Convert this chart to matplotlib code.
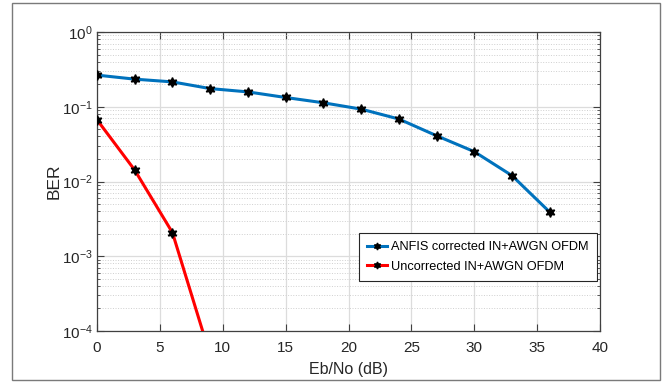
import matplotlib
matplotlib.use("Agg")
import matplotlib.pyplot as plt
from matplotlib.patches import Rectangle
from matplotlib.ticker import LogLocator, NullFormatter

plt.rcParams['font.family'] = ['Liberation Sans', 'DejaVu Sans']

ebno_anfis = [0, 3, 6, 9, 12, 15, 18, 21, 24, 27, 30, 33, 36]
ber_anfis = [0.265, 0.234, 0.215, 0.175, 0.158, 0.133, 0.113, 0.093, 0.0686, 0.041, 0.0251, 0.012, 0.0039]
ebno_unc = [0, 3, 6, 9]
ber_unc = [0.067, 0.0142, 0.00207, 0.000047]
x_ticks = [0, 5, 10, 15, 20, 25, 30, 35, 40]

fig = plt.figure(figsize=(6.67, 3.82), dpi=100)
fig.patches.append(Rectangle((12/667, 2/382), 648/667, 377/382, transform=fig.transFigure,
                             fill=False, edgecolor='#7a7a7a', linewidth=1.0))
ax = fig.add_axes([97/667, 51/382, 503/667, 299/382])

star = (6, 1, 0)
ax.plot(ebno_anfis, ber_anfis, color='#0072BD', linewidth=2.2, marker=star, markersize=7,
        markerfacecolor='black', markeredgecolor='black', label='ANFIS corrected IN+AWGN OFDM', zorder=3)
ax.plot(ebno_unc, ber_unc, color='#FF0000', linewidth=2.2, marker=star, markersize=7,
        markerfacecolor='black', markeredgecolor='black', label='Uncorrected IN+AWGN OFDM', zorder=3)

ax.set_yscale('log')
ax.set_xlim(0, 40)
ax.set_ylim(1e-4, 1)
ax.set_xticks(x_ticks)
ax.yaxis.set_major_locator(LogLocator(base=10, numticks=10))
ax.yaxis.set_minor_locator(LogLocator(base=10, subs=range(2, 10), numticks=20))
ax.yaxis.set_minor_formatter(NullFormatter())

ax.grid(True, which='major', color='#dcdcdc', linewidth=0.9, linestyle='-')
ax.grid(True, which='minor', axis='y', color='#cfcfcf', linewidth=0.7, linestyle=':')
ax.set_axisbelow(True)

for sp in ax.spines.values():
    sp.set_color('#404040')
    sp.set_linewidth(0.9)
ax.tick_params(which='both', direction='in', top=True, right=True, colors='#404040',
               labelcolor='#262626', labelsize=11)
ax.tick_params(which='major', length=5)
ax.tick_params(which='minor', length=2.5)
ax.tick_params(axis='x', which='major', pad=7.5)
ax.tick_params(axis='y', which='major', pad=3)

ax.set_xlabel('Eb/No (dB)', fontsize=11.5, color='#262626', labelpad=5)
ax.set_ylabel('BER', fontsize=12.5, color='#262626', labelpad=0)

leg = ax.legend(loc='lower right', bbox_to_anchor=(0.994, 0.167), fontsize=9.2,
                fancybox=False, framealpha=1, edgecolor='#262626', handlelength=1.6,
                handletextpad=0.3, borderpad=0.65, borderaxespad=0, labelspacing=0.6)
leg.get_frame().set_linewidth(0.8)
for h in leg.legend_handles:
    h.set_markersize(5)

fig.savefig('out.png', dpi=100)
